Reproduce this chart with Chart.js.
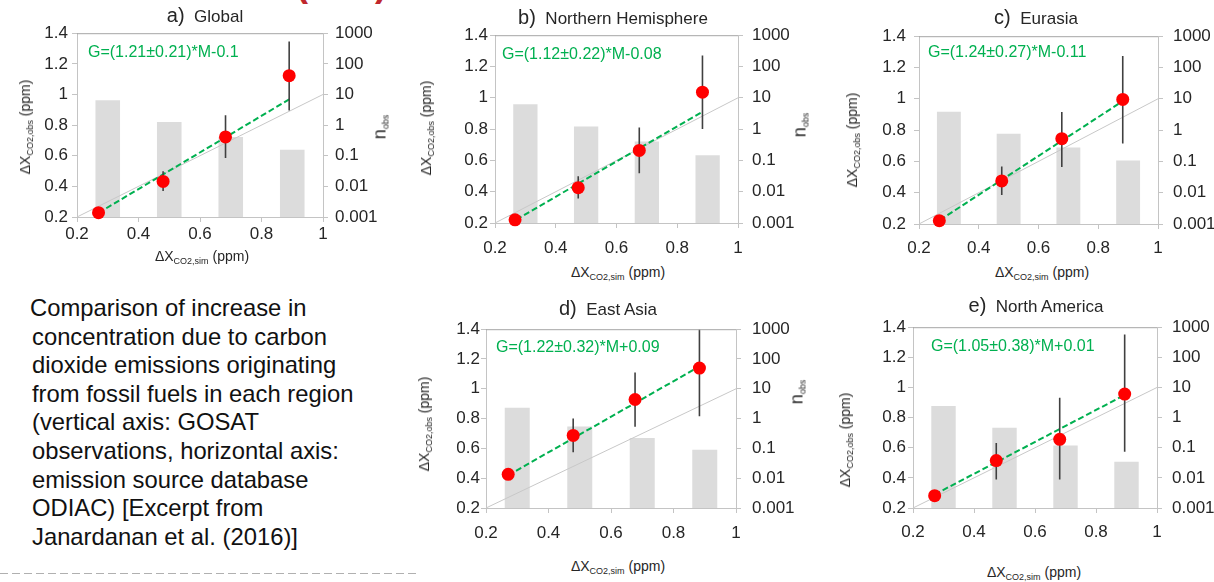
<!DOCTYPE html>
<html>
<head>
<meta charset="utf-8">
<script src="https://cdn.jsdelivr.net/npm/chart.js@4.4.0/dist/chart.umd.min.js"></script>
<style>
  html, body { margin: 0; padding: 0; background: #fff; }
  body { width: 1214px; height: 582px; position: relative; overflow: hidden;
         font-family: "Liberation Sans", Arial, sans-serif; color: #222; }
  .abs { position: absolute; white-space: nowrap; }
  .ptitle { font-size: 17px; transform: translate(-50%, -50%); color: #262626; }
  .ptitle .lab { font-size: 20px; }
  .axt { font-size: 14px; transform: translate(-50%, -50%); color: #262626; }
  .axt sub { font-size: 9px; vertical-align: -3px; }
  .rot { transform: translate(-50%, -50%) rotate(-90deg); }
  .nobs { font-size: 18px; }
  .nobs sub { font-size: 9px; vertical-align: -3px; }
  #desc { left: 32px; top: 294px; font-size: 23.8px; line-height: 28.6px; color: #111; }
  #sep { left: 0; top: 573px; width: 420px; height: 1px;
         background: repeating-linear-gradient(to right, #b0b0b0 0 8px, transparent 8px 12px); }
  .paren { font-size: 36px; line-height: 36px; font-weight: bold; color: #c0282d; top: -34px; }
</style>
</head>
<body>
<div class="abs paren" style="left:296px">(</div>
<div class="abs paren" style="left:375px">)</div>
<div id="desc" class="abs"><span style="margin-left:-2px">Comparison of increase in</span><br>concentration due to carbon<br>dioxide emissions originating<br>from fossil fuels in each region<br>(vertical axis: GOSAT<br>observations, horizontal axis:<br>emission source database<br>ODIAC) [Excerpt from<br>Janardanan et al. (2016)]</div>
<div id="sep" class="abs"></div>

<script>
// panel labels and region names
const panelLetters = ["a)", "b)", "c)", "d)", "e)"];
const regionNames = ["Global", "Northern Hemisphere", "Eurasia", "East Asia", "North America"];
const fitLabels = [
  "G=(1.21±0.21)*M-0.1",
  "G=(1.12±0.22)*M-0.08",
  "G=(1.24±0.27)*M-0.11",
  "G=(1.22±0.32)*M+0.09",
  "G=(1.05±0.38)*M+0.01"
];

// tick values
const xTicks = [0.2, 0.4, 0.6, 0.8, 1];
const yTicks = [0.2, 0.4, 0.6, 0.8, 1, 1.2, 1.4];
const nTicks = [0.001, 0.01, 0.1, 1, 10, 100, 1000];

// histogram bins (n_obs, right log axis)
const binCenters = [0.3, 0.5, 0.7, 0.9];
const nObs = [
  [6.5, 1.26, 0.41, 0.156],
  [6.2, 1.2, 0.40, 0.147],
  [3.86, 0.76, 0.277, 0.107],
  [2.33, 0.548, 0.223, 0.0905],
  [2.42, 0.457, 0.119, 0.0343]
];

// red points: simulated (x) vs observed (y)
const simX = [
  [0.27, 0.48, 0.683, 0.89],
  [0.266, 0.474, 0.675, 0.883],
  [0.268, 0.477, 0.678, 0.882],
  [0.271, 0.479, 0.677, 0.883],
  [0.271, 0.473, 0.681, 0.894]
];
const obsY = [
  [0.228, 0.432, 0.723, 1.123],
  [0.22, 0.426, 0.664, 1.036],
  [0.221, 0.475, 0.745, 0.996],
  [0.426, 0.687, 0.928, 1.139],
  [0.282, 0.515, 0.656, 0.956]
];
const errLow = [
  [0.215, 0.37, 0.585, 0.896],
  [0.205, 0.357, 0.518, 0.80],
  [0.205, 0.385, 0.564, 0.714],
  [0.40, 0.574, 0.746, 0.815],
  [0.265, 0.389, 0.389, 0.573]
];
const errHigh = [
  [0.24, 0.498, 0.864, 1.346],
  [0.235, 0.499, 0.811, 1.27],
  [0.237, 0.568, 0.916, 1.273],
  [0.455, 0.80, 1.109, 1.40],
  [0.30, 0.631, 0.931, 1.351]
];

// regression line end points (green dashed)
const fitStart = [[0.27, 0.227], [0.27, 0.222], [0.27, 0.225], [0.271, 0.42], [0.271, 0.29]];
const fitEnd = [[0.89, 0.968], [0.885, 0.913], [0.882, 0.985], [0.883, 1.15], [0.894, 0.95]];

// 1:1 line
const oneToOne = [[0.2, 0.2], [1, 1]];

// page layout of each panel: plot box and label offsets
const layouts = [
  { box: [77, 32, 323, 217], xPad: 2, yPad: 4, rPad: 7, eq: [11, 19], title: [205, 15], yt: [26, 127], xt: [202, 257], nt: [380, 127] },
  { box: [495, 32, 738, 223], xPad: 10, yPad: 2, rPad: 9, eq: [7, 19], title: [613, 17], yt: [427, 128], xt: [618, 273], nt: [800, 125] },
  { box: [919, 32, 1158, 224], xPad: 9, yPad: 8, rPad: 10, eq: [9, 16], title: [1036, 17], yt: [853, 140], xt: [1042, 273], nt: null },
  { box: [486, 324, 736, 508], xPad: 10, yPad: 1, rPad: 11, eq: [10, 18], title: [608, 308], yt: [425, 424], xt: [618, 567], nt: [797, 392] },
  { box: [913, 323, 1157, 508], xPad: 9, yPad: 2, rPad: 10, eq: [18, 19], title: [1036, 305], yt: [846, 440], xt: [1034, 573], nt: null }
];

const FONT = '"Liberation Sans", Arial, sans-serif';
Chart.defaults.font.family = FONT;

// top frame line + regression equation
const frameText = {
  id: "frameText",
  afterDatasetsDraw(chart, args, opts) {
    const { ctx, chartArea: a } = chart;
    ctx.save();
    ctx.strokeStyle = "#a6a6a6";
    ctx.lineWidth = 1;
    ctx.beginPath();
    ctx.moveTo(a.left, a.top + 0.5);
    ctx.lineTo(a.right, a.top + 0.5);
    ctx.stroke();
    ctx.fillStyle = "#00b050";
    ctx.font = "16px " + FONT;
    ctx.textBaseline = "middle";
    ctx.fillText(opts.text, a.left + opts.dx, a.top + opts.dy);
    ctx.restore();
  }
};

function addText(html, x, y, cls) {
  const d = document.createElement("div");
  d.className = "abs " + cls;
  d.style.left = x + "px";
  d.style.top = y + "px";
  d.innerHTML = html;
  document.body.appendChild(d);
}

const PADL = 70, PADR = 70, PADT = 16, PADB = 40;

layouts.forEach((lay, i) => {
  const [L, T, R, B] = lay.box;
  const canvas = document.createElement("canvas");
  canvas.width = R - L + PADL + PADR;
  canvas.height = B - T + PADT + PADB;
  canvas.style.position = "absolute";
  canvas.style.left = (L - PADL) + "px";
  canvas.style.top = (T - PADT) + "px";
  document.body.appendChild(canvas);

  const datasets = [];
  datasets.push({
    type: "scatter",
    data: simX[i].map((x, j) => ({ x, y: obsY[i][j] })),
    pointRadius: 6.5,
    pointBackgroundColor: "#ff0000",
    pointBorderWidth: 0,
    clip: false,
    order: 0
  });
  simX[i].forEach((x, j) => {
    datasets.push({
      type: "line",
      data: [{ x, y: errLow[i][j] }, { x, y: errHigh[i][j] }],
      borderColor: "#404040",
      borderWidth: 1.6,
      pointRadius: 0,
      order: 1
    });
  });
  datasets.push({
    type: "line",
    data: [fitStart[i], fitEnd[i]].map(p => ({ x: p[0], y: p[1] })),
    borderColor: "#00b050",
    borderWidth: 2,
    borderDash: [6, 3],
    pointRadius: 0,
    order: 2
  });
  datasets.push({
    type: "line",
    data: oneToOne.map(p => ({ x: p[0], y: p[1] })),
    borderColor: "#c8c8c8",
    borderWidth: 1,
    pointRadius: 0,
    order: 3
  });
  datasets.push({
    type: "bar",
    yAxisID: "y2",
    data: binCenters.map((x, j) => ({ x, y: nObs[i][j] })),
    backgroundColor: "#dcdcdc",
    barPercentage: 0.4,
    categoryPercentage: 1,
    order: 4
  });

  const tickFont = { size: 17, family: FONT };
  const axisGrid = { display: true, drawOnChartArea: false, drawTicks: true, tickLength: 5, color: "#c4c4c4", offset: false };

  new Chart(canvas, {
    type: "scatter",
    data: { datasets },
    plugins: [frameText],
    options: {
      responsive: false,
      animation: false,
      events: [],
      layout: { padding: { top: PADT, left: 0, right: 0, bottom: 0 }, autoPadding: false },
      plugins: {
        legend: { display: false },
        tooltip: { enabled: false },
        frameText: { text: fitLabels[i], dx: lay.eq[0], dy: lay.eq[1] }
      },
      scales: {
        x: {
          type: "linear", position: "bottom", min: 0.2, max: 1, offset: false,
          afterBuildTicks: s => { s.ticks = xTicks.map(v => ({ value: v })); },
          afterFit: s => { s.height = PADB; },
          ticks: { font: tickFont, color: "#262626", padding: lay.xPad, maxRotation: 0, autoSkip: false, callback: v => String(v) },
          grid: axisGrid,
          border: { display: true, color: "#c4c4c4" }
        },
        y: {
          type: "linear", position: "left", min: 0.2, max: 1.4,
          afterBuildTicks: s => { s.ticks = yTicks.map(v => ({ value: v })); },
          afterFit: s => { s.width = PADL; },
          ticks: { font: tickFont, color: "#262626", padding: lay.yPad, autoSkip: false, callback: v => String(v) },
          grid: axisGrid,
          border: { display: true, color: "#c4c4c4" }
        },
        y2: {
          type: "logarithmic", position: "right", min: 0.001, max: 1000,
          afterBuildTicks: s => { s.ticks = nTicks.map(v => ({ value: v })); },
          afterFit: s => { s.width = PADR; },
          ticks: { font: tickFont, color: "#262626", padding: lay.rPad, autoSkip: false, callback: v => String(v) },
          grid: axisGrid,
          border: { display: true, color: "#c4c4c4" }
        }
      }
    }
  });

  addText('<span class="lab">' + panelLetters[i] + '</span>&nbsp;&nbsp;' + regionNames[i], lay.title[0], lay.title[1], "ptitle");
  addText('ΔX<sub>CO2,obs</sub> (ppm)', lay.yt[0], lay.yt[1], "axt rot");
  addText('ΔX<sub>CO2,sim</sub> (ppm)', lay.xt[0], lay.xt[1], "axt");
  if (lay.nt) addText('n<sub>obs</sub>', lay.nt[0], lay.nt[1], "axt rot nobs");
});
</script>
</body>
</html>
